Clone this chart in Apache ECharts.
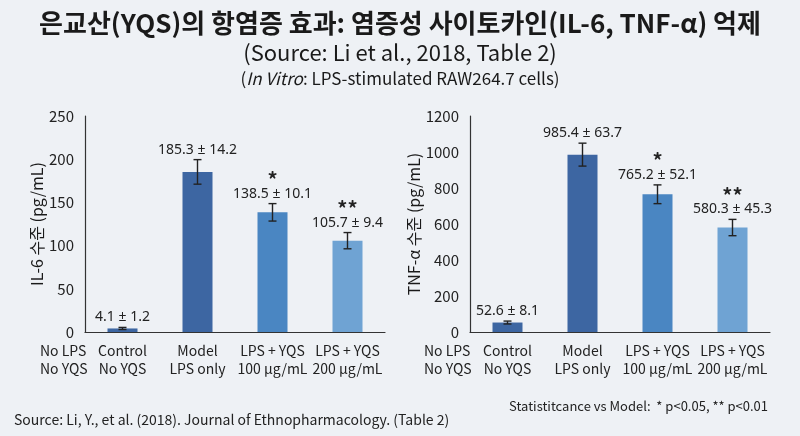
<!DOCTYPE html>
<html>
<head>
<meta charset="utf-8">
<script src="https://cdn.jsdelivr.net/npm/echarts@6.0.0/dist/echarts.min.js"></script>
<style>
html, body { margin: 0; padding: 0; background: #eef1f5; }
#main { width: 800px; height: 436px; }
</style>
</head>
<body>
<div id="main"></div>
<script>
const groups = ['Control\nNo YQS', 'Model\nLPS only', 'LPS + YQS\n100 μg/mL', 'LPS + YQS\n200 μg/mL'];
const baselineLabel = 'No LPS\nNo YQS';
const il6Mean = [4.1, 185.3, 138.5, 105.7];
const il6Sd = [1.2, 14.2, 10.1, 9.4];
const tnfMean = [52.6, 985.4, 765.2, 580.3];
const tnfSd = [8.1, 63.7, 52.1, 45.3];
const signif = ['', '', '*', '**'];
const barColors = ['#3d66a2', '#3d66a2', '#4a86c2', '#6fa3d3'];
const FONT = '"Noto Sans CJK KR", "Noto Sans", sans-serif';
const LATIN = '"Noto Sans", "Noto Sans CJK KR", sans-serif';

function barData(mean) {
	return mean.map((v, i) => ({ value: v, itemStyle: { color: barColors[i] } }));
}

function errData(mean, sd) {
	return mean.map((v, i) => [i, v, sd[i]]);
}

// error bar + "mean ± sd" label + significance stars
function renderErr(params, api) {
	const i = api.value(0), m = api.value(1), s = api.value(2);
	const star = signif[i];
	const top = api.coord([i, m + s]);
	const bot = api.coord([i, m - s]);
	const x = top[0], cap = 4;
	const style = { stroke: '#222', lineWidth: 1.4 };
	const children = [
		{ type: 'line', shape: { x1: x, y1: top[1], x2: x, y2: bot[1] }, style },
		{ type: 'line', shape: { x1: x - cap, y1: top[1], x2: x + cap, y2: top[1] }, style },
		{ type: 'line', shape: { x1: x - cap, y1: bot[1], x2: x + cap, y2: bot[1] }, style },
		{ type: 'text', style: { x: x, y: top[1] - 3, text: m.toFixed(1) + ' ± ' + s.toFixed(1), align: 'center', verticalAlign: 'bottom', fill: '#222', font: '14px ' + LATIN } },
	];
	if (star) {
		children.push({ type: 'text', style: { x: x, y: top[1] - 14, text: star, align: 'center', verticalAlign: 'bottom', fill: '#222', font: 'bold 20px ' + FONT } });
	}
	return { type: 'group', children };
}

function yAxisOpt(grid, max, interval, name) {
	return {
		gridIndex: grid, type: 'value', min: 0, max, interval,
		name, nameLocation: 'middle', nameGap: grid === 0 ? 40 : 43,
		nameTextStyle: { fontSize: 16, color: '#1a1a1a', fontFamily: FONT },
		axisLine: { show: true, lineStyle: { color: '#333', width: 1.2 } },
		axisTick: { show: false },
		splitLine: { show: false },
		axisLabel: { fontSize: 15, color: '#222', margin: 11, fontFamily: FONT, formatter: v => String(v) },
	};
}

function xAxisOpt(grid) {
	return {
		gridIndex: grid, type: 'category', data: groups,
		axisLine: { lineStyle: { color: '#333', width: 1.2 } },
		axisTick: { show: false },
		axisLabel: { fontSize: 14, color: '#222', lineHeight: 18, margin: 10, fontFamily: FONT, interval: 0 },
	};
}

const chart = echarts.init(document.getElementById('main'));
chart.setOption({
	backgroundColor: '#eef1f5',
	textStyle: { fontFamily: FONT },
	title: [
		{ text: '은교산(YQS)의 항염증 효과: 염증성 사이토카인(IL-6, TNF-α) 억제', left: 'center', top: 5, textStyle: { fontSize: 26, fontWeight: 'bold', color: '#1a1a1a', fontFamily: FONT } },
		{ text: '(Source: Li et al., 2018, Table 2)', left: 'center', top: 37, textStyle: { fontSize: 22, fontWeight: 'normal', color: '#1a1a1a', fontFamily: FONT } },
		{
			text: '({i|In Vitro}: LPS-stimulated RAW264.7 cells)', left: 'center', top: 65,
			textStyle: { fontSize: 17, fontWeight: 'normal', color: '#1a1a1a', fontFamily: FONT, rich: { i: { fontSize: 17, fontStyle: 'italic', color: '#1a1a1a', fontFamily: FONT } } },
		},
	],
	graphic: [
		{ type: 'text', left: 40, top: 342, style: { text: baselineLabel, fill: '#222', font: '14px ' + FONT, lineHeight: 18, align: 'center' } },
		{ type: 'text', left: 424, top: 342, style: { text: baselineLabel, fill: '#222', font: '14px ' + FONT, lineHeight: 18, align: 'center' } },
		{ type: 'text', right: 32, top: 400, style: { text: 'Statistitcance vs Model:  * p<0.05, ** p<0.01', fill: '#222', font: '13px ' + FONT } },
		{ type: 'text', left: 14, top: 413, style: { text: 'Source: Li, Y., et al. (2018). Journal of Ethnopharmacology. (Table 2)', fill: '#222', font: '14px ' + FONT } },
	],
	grid: [
		{ left: 85, top: 116, width: 300, height: 216 },
		{ left: 470, top: 116, width: 300, height: 216 },
	],
	xAxis: [xAxisOpt(0), xAxisOpt(1)],
	yAxis: [
		yAxisOpt(0, 250, 50, 'IL-6 수준 (pg/mL)'),
		yAxisOpt(1, 1200, 200, 'TNF-α 수준 (pg/mL)'),
	],
	series: [
		{ type: 'bar', xAxisIndex: 0, yAxisIndex: 0, barWidth: 30, data: barData(il6Mean), silent: true },
		{ type: 'bar', xAxisIndex: 1, yAxisIndex: 1, barWidth: 30, data: barData(tnfMean), silent: true },
		{ type: 'custom', xAxisIndex: 0, yAxisIndex: 0, renderItem: renderErr, data: errData(il6Mean, il6Sd), z: 5, silent: true },
		{ type: 'custom', xAxisIndex: 1, yAxisIndex: 1, renderItem: renderErr, data: errData(tnfMean, tnfSd), z: 5, silent: true },
	],
});
</script>
</body>
</html>
